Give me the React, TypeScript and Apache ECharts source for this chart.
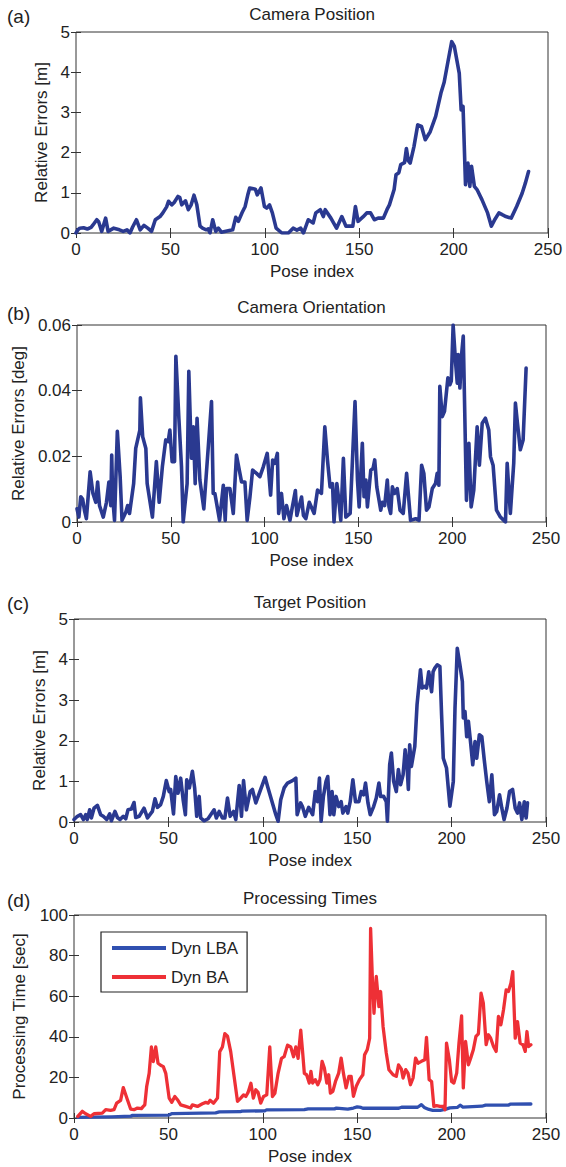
import React, { useEffect, useRef } from "react";
import * as echarts from "echarts";

const poseTicks = [0, 50, 100, 150, 200, 250];
const panelTitles = ["Camera Position", "Camera Orientation", "Target Position", "Processing Times"];
const panelLetters = ["(a)", "(b)", "(c)", "(d)"];
const yNames = ["Relative Errors [m]", "Relative Errors [deg]", "Relative Errors [m]", "Processing Time [sec]"];
const xName = "Pose index";
const legendNames = ["Dyn LBA", "Dyn BA"];

const cameraPosition = [
  [0, 0], [1, 0.08], [2, 0.12], [4, 0.13], [6, 0.1], [8, 0.14], [9, 0.2], [11, 0.33], [12, 0.28], [13.6, 0.04],
  [15.7, 0.37], [17, 0.04], [20, 0.12], [23, 0.08], [25, 0.04], [27, 0.08], [28.6, 0], [30, 0.15], [32, 0.33],
  [34, 0.08], [36, 0.19], [38, 0.12], [40, 0.04], [42, 0.33], [44.5, 0.41], [46, 0.5], [48, 0.65], [49, 0.79],
  [50.7, 0.7], [52, 0.76], [54, 0.91], [55, 0.88], [56, 0.7], [58, 0.8], [59.5, 0.58], [61, 0.7], [62.5, 0.94],
  [64, 0.7], [65.7, 0.17], [67, 0.12], [69, 0.08], [70, 0.1], [71, 0], [72.4, 0.33], [74, 0.04], [75.4, 0.12],
  [77, 0.02], [80, 0.05], [83, 0.08], [84.6, 0.39], [86, 0.29], [88, 0.51], [89.6, 0.66], [91, 0.95], [92, 1.12],
  [94, 1.1], [95, 1.09], [96, 0.95], [98, 1.12], [99.8, 0.66], [101, 0.62], [102.5, 0.7], [104, 0.5], [106, 0.12],
  [109, 0], [112.5, 0], [115, 0.12], [117, 0.07], [119, 0.12], [120.5, 0], [123, 0.33], [125.6, 0.25], [127, 0.5],
  [129.4, 0.58], [131, 0.41], [132, 0.58], [135, 0.37], [138, 0.12], [140.8, 0.41], [143, 0.17], [146.6, 0.17],
  [148, 0.66], [149.4, 0.29], [152, 0.4], [154, 0.5], [156, 0.5], [158, 0.33], [160, 0.37], [162.8, 0.37],
  [164.7, 0.58], [166, 0.7], [168.5, 1.08], [169.5, 1.45], [171, 1.5], [172, 1.7], [174, 1.75], [175, 2.1],
  [176, 1.8], [177, 1.74], [179, 2.15], [181, 2.69], [183, 2.65], [185, 2.32], [187.6, 2.52], [190.5, 2.9],
  [193.3, 3.48], [195, 3.75], [197, 4.26], [199, 4.76], [200.4, 4.64], [203, 3.97], [204, 3.06], [205, 3.15],
  [206.3, 1.2], [207.6, 1.74], [208.6, 1.16], [209.5, 1.66], [211, 1.16], [212.4, 1.08], [215, 0.83], [218, 0.5],
  [220, 0.17], [222, 0.35], [224, 0.5], [226, 0.45], [227.7, 0.41], [230.5, 0.37], [233.4, 0.66], [236.3, 0.99],
  [238, 1.24], [239.7, 1.53],
];

const cameraOrientation = [
  [0, 0.004], [1, 0.0015], [2, 0.0077], [3, 0.007], [4, 0.0035], [5, 0.001], [7, 0.0153], [8.5, 0.0087], [10, 0.006],
  [11, 0.0122], [12, 0.005], [14, 0.0015], [15.7, 0.006], [17, 0.0122], [18, 0.005], [18.5, 0.0204], [19, 0.0077],
  [20, 0.0005], [21.5, 0.0276], [23, 0.0138], [24, 0.0005], [26, 0.003], [27, 0.005], [28, 0.0026], [30.2, 0.0117],
  [31.3, 0.0224], [33.5, 0.028], [33.8, 0.0378], [35, 0.026], [36.7, 0.0224], [37.4, 0.0117], [40.2, 0.0015],
  [42.3, 0.0184], [43.8, 0.006], [45.5, 0.0168], [47.3, 0.025], [48.6, 0.0245], [49.5, 0.028], [50.7, 0.0184],
  [52, 0.0184], [52.7, 0.0505], [54.3, 0.0316], [55.7, 0.0168], [56.6, 0], [58.7, 0.0117], [59.6, 0.0459],
  [61, 0.0194], [62, 0.029], [63, 0.0117], [64, 0.0316], [65.5, 0.0128], [67.6, 0.004], [70, 0.023], [71.7, 0.0367],
  [72.6, 0.0087], [73.5, 0.0087], [76, 0.0005], [78, 0.0112], [79, 0.0005], [79.7, 0.0102], [81.5, 0.0102],
  [83.3, 0.0026], [85, 0.0204], [87.7, 0.0122], [89.5, 0.0122], [90.7, 0.0005], [92.2, 0.0077], [93.6, 0.0158],
  [95.7, 0.0148], [97.5, 0.0138], [99.3, 0.0168], [101.4, 0.0209], [103.2, 0.0082], [104.3, 0.0189], [105.5, 0.0179],
  [106.8, 0.0209], [107.5, 0.0026], [109, 0.0087], [110.3, 0.001], [111.7, 0.005], [113.5, 0.0005], [116.4, 0.0096],
  [117.2, 0.002], [119.7, 0.0076], [120.7, 0.002], [122, 0.001], [123.8, 0.006], [126.4, 0.0026], [128.2, 0.0097],
  [130.3, 0.0087], [132.1, 0.029], [133.5, 0.0189], [134.9, 0.0107], [136.2, 0.0117], [137, 0], [138.5, 0.0117],
  [139.7, 0.006], [140.6, 0.0005], [142, 0.0194], [143.3, 0.0015], [145.6, 0.0026], [147.3, 0.025], [148.2, 0.0367],
  [149.5, 0.0128], [150.4, 0.0046], [152.1, 0.024], [153, 0.0077], [154, 0.0128], [154.8, 0.0046], [156.6, 0.0158],
  [157.8, 0.0163], [158.7, 0.0189], [159.8, 0.0107], [161.9, 0.0036], [162.8, 0.006], [164, 0.005], [165.4, 0.0128],
  [166.3, 0.0046], [167.2, 0.0026], [168.1, 0.0107], [169.3, 0.0087], [170.7, 0.0102], [172.2, 0.0036],
  [173.9, 0.0026], [175.7, 0.0148], [177.8, 0.0005], [180.5, 0.001], [182.3, 0.0005], [183.7, 0.0173],
  [184.9, 0.0148], [186.3, 0.0036], [187.6, 0.0046], [189.4, 0.0102], [191.1, 0.0117], [192, 0.0148],
  [192.9, 0.0112], [193.4, 0.0413], [194.7, 0.0321], [195.9, 0.0337], [197.7, 0.0439], [198.8, 0.0418],
  [199.5, 0.0429], [200.5, 0.06], [201.8, 0.0485], [202.7, 0.0423], [203.2, 0.051], [204.1, 0.0408], [205, 0.051],
  [205.9, 0.0566], [207.6, 0.0066], [208.9, 0.024], [210.1, 0.0046], [211.5, 0.0097], [213.3, 0.029],
  [214.5, 0.0173], [216, 0.0301], [217.7, 0.0316], [219.5, 0.028], [220.4, 0.0199], [221.8, 0.0173],
  [223.6, 0.0036], [225.7, 0.0015], [227.5, 0.0005], [228.4, 0], [229.3, 0.0179], [231, 0.0026], [232.8, 0.0179],
  [233.7, 0.0362], [234.6, 0.0311], [236.3, 0.022], [237.8, 0.025], [239.4, 0.0469],
];

const targetPosition = [
  [0, 0.06], [1.8, 0.14], [3.5, 0.18], [5, 0.06], [6.2, 0.18], [7, 0.06], [8.3, 0.3], [9.2, 0.1], [10.6, 0.34],
  [12.4, 0.41], [14.1, 0.18], [15.5, 0.14], [17.3, 0.06], [18.9, 0.2], [19.8, 0.03], [21.7, 0.26], [23, 0.11],
  [24.4, 0.06], [26.1, 0.14], [27.4, 0.08], [28.6, 0.3], [30.4, 0.32], [31.8, 0.48], [32.7, 0.11], [34.5, 0.14],
  [37.1, 0.34], [38.9, 0.1], [41.5, 0.26], [42.9, 0.57], [44.2, 0.36], [45.9, 0.43], [47.3, 0.63], [48.9, 1.02],
  [50.4, 0.75], [51.2, 0.8], [52.7, 0.2], [53.9, 1.12], [55.1, 0.71], [56.5, 1.08], [57.8, 0.55], [59, 0.18],
  [59.7, 1.04], [61.1, 0.84], [62.7, 1.25], [63.9, 0.84], [65, 0.14], [66.3, 0.63], [67.1, 0.1], [68.9, 0.03],
  [71, 0.08], [74.2, 0.3], [75.4, 0.1], [76.9, 0.26], [78.6, 0.1], [79.9, 0.1], [81.3, 0.59], [82.7, 0.14],
  [84.5, 0.26], [85.7, 0.06], [87.5, 0.9], [88.7, 0.14], [89.8, 1.02], [91.3, 0.3], [93.3, 0.75], [94.5, 0.8],
  [96.3, 0.47], [99.8, 0.92], [101.2, 1.1], [102.5, 0.88], [106.9, 0.18], [108.1, 0.02], [109.5, 0.55],
  [111.3, 0.84], [113.1, 0.96], [115.7, 1.02], [117.5, 1.08], [118.2, 0.18], [120, 0.47], [121, 0.38],
  [122.5, 0.14], [124.3, 0.36], [126.4, 0.18], [127.8, 0.75], [129, 0.5], [130, 1.08], [130.9, 0.02],
  [132.1, 0.63], [133.5, 1.0], [134.4, 1.12], [135.6, 0.18], [136.7, 0.75], [137.6, 0.18], [138.8, 0.63],
  [140.2, 0.38], [141.5, 0.5], [142.4, 0.22], [144.1, 0.38], [145, 0.22], [146.3, 0.5], [147.7, 1.04],
  [149.1, 0.5], [150.9, 0.5], [152.1, 0.75], [153.4, 0.67], [154.4, 0.96], [155.7, 0.47], [156.9, 0.18],
  [158.7, 0.38], [160.1, 0.59], [161.5, 0.96], [162.4, 0.63], [164, 0.63], [165.4, 0.5], [166, 0.02],
  [167.2, 1.41], [168.1, 1.7], [169.3, 1.0], [170.7, 0.75], [171.8, 1.29], [173, 0.92], [174.3, 1.16],
  [175.4, 1.78], [176.4, 1.37], [177.1, 0.8], [177.8, 1.9], [178.7, 1.37], [180.5, 1.86], [181.7, 2.89],
  [183.5, 3.75], [184.4, 3.3], [185.8, 3.34], [186.7, 3.3], [187.9, 3.7], [189.4, 3.21], [190.2, 3.7],
  [191.1, 3.79], [192.4, 3.87], [193.8, 3.83], [194.7, 2.64], [195.6, 1.57], [197.3, 1.33], [199.1, 0.39],
  [200.9, 1.0], [201.8, 2.8], [203, 4.28], [204.4, 3.87], [205.7, 3.46], [206.2, 2.56], [207.1, 2.72], [208, 2.1],
  [208.9, 2.48], [210.1, 1.94], [211.2, 1.41], [212.4, 1.98], [213.3, 1.57], [214.7, 2.15], [216, 2.1],
  [217.2, 1.57], [218.6, 1.0], [220, 0.5], [221.3, 1.16], [222.7, 0.18], [223.9, 0.26], [225.4, 0.67],
  [226.6, 0.34], [227.8, 0.06], [229.3, 0.34], [230.7, 0.75], [232.3, 0.8], [233.7, 0.34], [234.9, 0.22],
  [236, 0.47], [237.2, 0.06], [238.5, 0.5], [239.5, 0.1], [240.2, 0.47],
];

const dynLBA = [
  [2, 0.3], [10, 0.4], [20, 0.6], [30, 0.9], [31, 1.3], [50, 1.4], [52, 2.2], [75, 2.5], [77, 3.0], [88, 3.1],
  [89, 3.4], [101, 3.5], [102, 4.0], [122, 4.1], [124, 4.5], [138, 4.5], [139, 4.9], [145, 4.4], [148, 4.9],
  [150, 5.5], [152, 5.2], [153, 4.8], [172, 4.8], [173.5, 5.3], [182, 5.3], [184, 6.6], [185.5, 5.2], [188, 4.2],
  [190, 3.8], [194, 3.8], [197, 4.4], [199, 5.0], [203, 5.2], [204.5, 6.3], [206, 5.4], [216, 5.8], [218, 6.3],
  [230, 6.3], [231, 6.8], [242, 6.9],
];

const dynBA = [
  [2, 0.8], [4.4, 3.3], [6.2, 2.1], [8.8, 0.8], [10.6, 2.1], [15, 2.4], [16.8, 4.1], [19.4, 3.8], [21.2, 4.1],
  [22.6, 7.3], [24.7, 8.7], [26.1, 15], [28.3, 9], [30, 4.4], [31.8, 4.1], [33.6, 4.9], [35.7, 4.6], [36.7, 5.7],
  [37.5, 6.5], [38.5, 15.5], [39.8, 22], [41, 35], [42, 27.8], [43.3, 35], [44.5, 27], [45.9, 26], [47.3, 25.3],
  [48.6, 22], [50.4, 9.8], [51.8, 7.7], [53.4, 10.6], [54.8, 9], [56.5, 6.5], [59.2, 5.7], [61.8, 4.9], [62.7, 6.5],
  [65.4, 5.7], [68, 7], [69.8, 7.7], [71, 7.3], [72.1, 8.7], [73.9, 7.3], [76, 9.8], [77.2, 32.7], [78.6, 35],
  [79.9, 41.6], [81.3, 40.3], [83, 32.7], [84.8, 20.4], [86.6, 8.2], [88.3, 9.8], [89.8, 11.4], [91, 10.6],
  [92.2, 12.6], [93.7, 17.1], [95, 9.8], [96.3, 13.9], [97.5, 12.6], [98.9, 7.3], [100.4, 10.6], [102.1, 11.4],
  [103.7, 35], [105.1, 10.6], [106.4, 12.2], [108.1, 22], [109.9, 29.4], [111.3, 30.2], [113.1, 35.9], [114.8, 35],
  [116.3, 30.2], [117.5, 35], [118.7, 29.4], [120.1, 43.3], [121, 33.6], [122, 22], [123.2, 21.3], [124.6, 17.2],
  [125.5, 23], [126.4, 17.2], [127.8, 18.9], [129.1, 16.4], [130.3, 18.9], [131.4, 27.9], [132.6, 24.6],
  [133.9, 17.2], [134.9, 21.3], [135.8, 12.3], [137.1, 13.1], [138.5, 18], [140.2, 22.1], [141.5, 29.5],
  [142.7, 22.1], [144.1, 14.8], [145.6, 20.5], [146.8, 20.5], [148, 10.7], [149.5, 15.6], [151.2, 18.9],
  [153, 21.3], [153.9, 31.1], [155.3, 33.6], [156.6, 39.3], [157.1, 93.4], [158, 69.7], [158.9, 51.6],
  [160.1, 69.7], [161.5, 54.9], [162.4, 62.3], [163.7, 45.1], [165.4, 32], [166.8, 23.8], [169, 21.3],
  [170.7, 20.5], [171.9, 26.2], [173.4, 24.1], [174.3, 19.7], [175.7, 23.8], [176.9, 22.1], [178.2, 16.4],
  [179.6, 19.7], [180.9, 29.5], [182.3, 27], [184, 27.9], [185.8, 28.7], [186.7, 39.7], [188.1, 18.9], [189.4, 18],
  [190.6, 5.7], [192, 6.1], [193.8, 5.7], [195.6, 5.7], [196.5, 4.1], [197.3, 36.9], [198.8, 28.7], [200, 18],
  [201.2, 17.2], [202.7, 22.1], [203.9, 36.9], [205.3, 50.3], [206.2, 14.8], [207.4, 37.7], [208.9, 26.2],
  [210.1, 29.5], [211.5, 33.6], [212.9, 40.2], [214.2, 41.5], [215.6, 61.5], [216.8, 56.6], [218.3, 36.1],
  [219.5, 41], [220.7, 39.3], [222.2, 35.2], [223.6, 32.8], [224.8, 50], [226.1, 45.9], [227.5, 53.3],
  [228.9, 63.1], [230.1, 62.3], [231.4, 66.4], [232.4, 72.1], [233.7, 39.3], [234.9, 47.5], [236.3, 36.9],
  [237.8, 36.1], [239, 32.8], [239.9, 42.6], [240.8, 35.2], [242, 36.1],
];

const yRanges = [
  { min: 0, max: 5, interval: 1 },
  { min: 0, max: 0.06, interval: 0.02 },
  { min: 0, max: 5, interval: 1 },
  { min: 0, max: 100, interval: 20 },
];

const FONT = "'Liberation Sans', Arial, Helvetica, sans-serif";
const TEXT = "#222";
const AXIS = "#333";
const NAVY = "#2a3990";
const BLUE = "#3050b0";
const RED = "#ee3036";

const grids = [
  { left: 76, top: 32, width: 472, height: 201 },
  { left: 77, top: 325, width: 469, height: 197 },
  { left: 74, top: 619, width: 472, height: 203 },
  { left: 74, top: 915, width: 472, height: 203 },
];
const yNameGaps = [26, 48, 26, 46];
const titleY = [14, 307, 602, 898];
const letterY = [16, 313, 603, 900];

function buildOption() {
  const xAxis: any[] = [];
  const yAxis: any[] = [];
  grids.forEach((g, i) => {
    const tick = { show: true, inside: true, length: 5, lineStyle: { color: AXIS, width: 1 } };
    xAxis.push({
      type: "value", gridIndex: i, min: 0, max: 250, interval: 50, position: "bottom",
      name: xName, nameLocation: "middle", nameGap: 30,
      nameTextStyle: { fontSize: 17, color: TEXT, fontFamily: FONT },
      axisLine: { show: false }, axisTick: tick, splitLine: { show: false },
      axisLabel: { fontSize: 17, color: TEXT, fontFamily: FONT, margin: 8 },
    });
    xAxis.push({
      type: "value", gridIndex: i, min: 0, max: 250, interval: 50, position: "top",
      axisLine: { show: false }, axisTick: tick, splitLine: { show: false }, axisLabel: { show: false },
    });
    const r = yRanges[i];
    yAxis.push({
      type: "value", gridIndex: i, min: r.min, max: r.max, interval: r.interval, position: "left",
      name: yNames[i], nameLocation: "middle", nameGap: yNameGaps[i],
      nameTextStyle: { fontSize: 17, color: TEXT, fontFamily: FONT },
      axisLine: { show: false }, axisTick: tick, splitLine: { show: false },
      axisLabel: {
        fontSize: 17, color: TEXT, fontFamily: FONT, margin: 6,
        formatter: i === 1 ? (v: number) => (v === 0 ? "0" : v.toFixed(2)) : (v: number) => String(v),
      },
    });
    yAxis.push({
      type: "value", gridIndex: i, min: r.min, max: r.max, interval: r.interval, position: "right",
      axisLine: { show: false }, axisTick: tick, splitLine: { show: false }, axisLabel: { show: false },
    });
  });

  const lineSeries = (name: string, data: number[][], gi: number, color: string, width: number) => ({
    type: "line", name, data, xAxisIndex: gi * 2, yAxisIndex: gi * 2,
    showSymbol: false, symbol: "none",
    lineStyle: { color, width, cap: "round", join: "round" },
    itemStyle: { color },
    silent: true,
  });

  const graphics: any[] = [];
  grids.forEach((g, i) => {
    graphics.push({
      type: "text", x: g.left + g.width / 2, y: titleY[i],
      style: { text: panelTitles[i], fill: TEXT, font: `17px ${FONT}`, textAlign: "center", textVerticalAlign: "middle" },
    });
    graphics.push({
      type: "text", x: 7, y: letterY[i],
      style: { text: panelLetters[i], fill: TEXT, font: `19px ${FONT}`, textAlign: "left", textVerticalAlign: "middle" },
    });
  });

  return {
    animation: false,
    backgroundColor: "#ffffff",
    grid: grids.map((g) => ({ ...g, show: true, borderColor: AXIS, borderWidth: 1, backgroundColor: "transparent" })),
    xAxis,
    yAxis,
    legend: {
      data: legendNames, orient: "vertical", left: 101, top: 932,
      padding: [6, 9, 5, 11], itemWidth: 54, itemHeight: 4, icon: "rect", itemGap: 9,
      borderColor: "#222", borderWidth: 1.2, backgroundColor: "#fff",
      textStyle: { fontSize: 17, color: TEXT, fontFamily: FONT, lineHeight: 20 },
      selectedMode: false,
    },
    graphic: graphics,
    series: [
      lineSeries("Camera Position", cameraPosition, 0, NAVY, 3.6),
      lineSeries("Camera Orientation", cameraOrientation, 1, NAVY, 3.6),
      lineSeries("Target Position", targetPosition, 2, NAVY, 3.6),
      lineSeries(legendNames[0], dynLBA, 3, BLUE, 3.3),
      lineSeries(legendNames[1], dynBA, 3, RED, 3.3),
    ],
  };
}

export default function App() {
  const ref = useRef<HTMLDivElement>(null);
  useEffect(() => {
    document.body.style.margin = "0";
    if (!ref.current) return;
    const chart = echarts.init(ref.current, undefined, { renderer: "svg" });
    chart.setOption(buildOption() as any);
    return () => chart.dispose();
  }, []);
  return <div ref={ref} style={{ width: 566, height: 1167 }} />;
}
